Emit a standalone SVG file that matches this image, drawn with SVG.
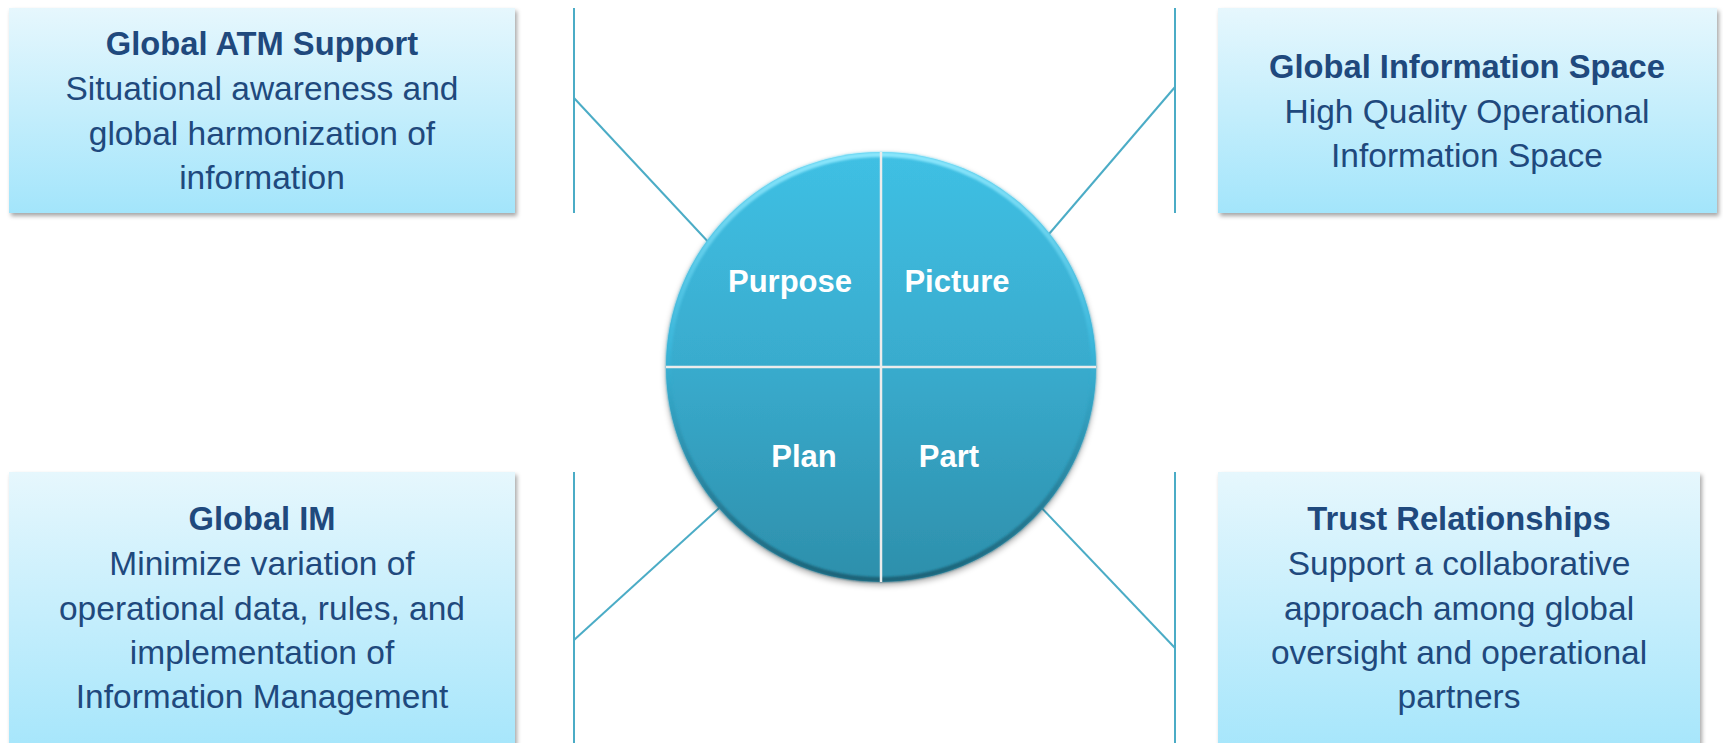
<svg xmlns="http://www.w3.org/2000/svg" width="1723" height="743" viewBox="0 0 1723 743">
  <defs>
    <linearGradient id="boxFill" x1="0" y1="0" x2="0" y2="1">
      <stop offset="0" stop-color="#e6f7fd"/>
      <stop offset="1" stop-color="#a3e5fb"/>
    </linearGradient>
    <linearGradient id="discFill" x1="0" y1="0" x2="0" y2="1">
      <stop offset="0" stop-color="#3fc0e4"/>
      <stop offset="0.5" stop-color="#39abcd"/>
      <stop offset="1" stop-color="#2d8fab"/>
    </linearGradient>
    <linearGradient id="discRim" x1="0" y1="0" x2="0" y2="1">
      <stop offset="0" stop-color="#8ae6fc"/>
      <stop offset="0.45" stop-color="#3ab6da"/>
      <stop offset="1" stop-color="#1d6378"/>
    </linearGradient>
    <filter id="boxShadow" x="-5%" y="-5%" width="112%" height="115%">
      <feDropShadow dx="2" dy="3" stdDeviation="2" flood-color="#000" flood-opacity="0.35"/>
    </filter>
    <filter id="discShadow" x="-10%" y="-10%" width="120%" height="125%">
      <feDropShadow dx="0" dy="3" stdDeviation="3" flood-color="#000" flood-opacity="0.35"/>
    </filter>
    <filter id="soft" x="-10%" y="-10%" width="120%" height="120%">
      <feGaussianBlur stdDeviation="1.2"/>
    </filter>
    <style>
      .box { fill: url(#boxFill); filter: url(#boxShadow); }
      .title { font-family: "Liberation Sans", Arial, sans-serif; font-weight: bold; font-size: 32.7px; fill: #1f497d; text-anchor: middle; }
      .body { font-family: "Liberation Sans", Arial, sans-serif; font-size: 33.5px; fill: #1f497d; text-anchor: middle; }
      .quad { font-family: "Liberation Sans", Arial, sans-serif; font-weight: bold; font-size: 31px; fill: #ffffff; text-anchor: middle; }
      .link { stroke: #4bacc6; stroke-width: 2; fill: none; }
      .divider { stroke: #ececec; stroke-width: 2.5; }
    </style>
  </defs>

  <rect width="1723" height="743" fill="#ffffff"/>

  <!-- connectors: vertical rails and spokes to the disc -->
  <g id="connectors">
    <line class="link" x1="574" y1="8" x2="574" y2="213"/>
    <line class="link" x1="574" y1="98" x2="712" y2="246"/>
    <line class="link" x1="1175" y1="8" x2="1175" y2="213"/>
    <line class="link" x1="1175" y1="87" x2="1043" y2="241"/>
    <line class="link" x1="574" y1="472" x2="574" y2="743"/>
    <line class="link" x1="574" y1="640" x2="728" y2="500"/>
    <line class="link" x1="1175" y1="472" x2="1175" y2="743"/>
    <line class="link" x1="1175" y1="648" x2="1036" y2="502"/>
  </g>

  <!-- central disc split into four quadrants -->
  <g id="disc">
    <circle cx="881" cy="367" r="215" fill="url(#discFill)" filter="url(#discShadow)"/>
    <circle cx="881" cy="367" r="212.5" fill="none" stroke="url(#discRim)" stroke-width="5" filter="url(#soft)"/>
    <line class="divider" x1="881" y1="152" x2="881" y2="582"/>
    <line class="divider" x1="666" y1="367" x2="1096" y2="367"/>
    <text class="quad" x="790" y="292">Purpose</text>
    <text class="quad" x="957" y="292">Picture</text>
    <text class="quad" x="804" y="467">Plan</text>
    <text class="quad" x="949" y="467">Part</text>
  </g>

  <g id="global-atm-support">
    <rect class="box" x="9" y="8" width="506" height="205"/>
    <text class="title" x="262" y="55">Global ATM Support</text>
    <text class="body" x="262" y="100">Situational awareness and</text>
    <text class="body" x="262" y="145">global harmonization of</text>
    <text class="body" x="262" y="189">information</text>
  </g>

  <g id="global-information-space">
    <rect class="box" x="1218" y="8" width="499" height="205"/>
    <text class="title" x="1467" y="78">Global Information Space</text>
    <text class="body" x="1467" y="123">High Quality Operational</text>
    <text class="body" x="1467" y="167">Information Space</text>
  </g>

  <g id="global-im">
    <rect class="box" x="9" y="472" width="506" height="290"/>
    <text class="title" x="262" y="530">Global IM</text>
    <text class="body" x="262" y="575">Minimize variation of</text>
    <text class="body" x="262" y="620">operational data, rules, and</text>
    <text class="body" x="262" y="664">implementation of</text>
    <text class="body" x="262" y="708">Information Management</text>
  </g>

  <g id="trust-relationships">
    <rect class="box" x="1218" y="472" width="482" height="290"/>
    <text class="title" x="1459" y="530">Trust Relationships</text>
    <text class="body" x="1459" y="575">Support a collaborative</text>
    <text class="body" x="1459" y="620">approach among global</text>
    <text class="body" x="1459" y="664">oversight and operational</text>
    <text class="body" x="1459" y="708">partners</text>
  </g>
</svg>
